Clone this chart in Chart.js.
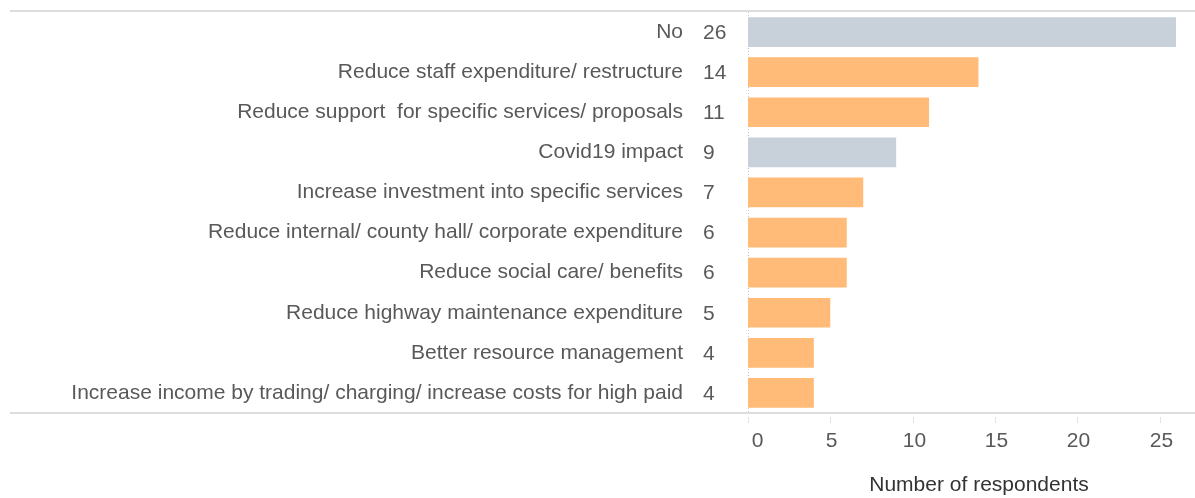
<!DOCTYPE html>
<html>
<head>
<meta charset="utf-8">
<script src="https://cdn.jsdelivr.net/npm/chart.js@4.4.1/dist/chart.umd.min.js"></script>
<style>
html,body{margin:0;padding:0;background:#fff;}
#wrap{position:relative;width:1195px;height:498px;}
</style>
</head>
<body>
<div id="wrap"><canvas id="c" width="1195" height="498"></canvas></div>
<script>
const categories = [
  "No",
  "Reduce staff expenditure/ restructure",
  "Reduce support  for specific services/ proposals",
  "Covid19 impact",
  "Increase investment into specific services",
  "Reduce internal/ county hall/ corporate expenditure",
  "Reduce social care/ benefits",
  "Reduce highway maintenance expenditure",
  "Better resource management",
  "Increase income by trading/ charging/ increase costs for high paid"
];
const values = [26, 14, 11, 9, 7, 6, 6, 5, 4, 4];
const barGroup = ["neutral","saving","saving","neutral","saving","saving","saving","saving","saving","saving"];
const groupColors = { neutral: "#c8d0da", saving: "#ffbb77" };
const xTicks = [0, 5, 10, 15, 20, 25];
const axisTitle = "Number of respondents";

const FONT = "'Liberation Sans', Arial, sans-serif";
const FSIZE = 21;
const TEXT = "#595959";

const decor = {
  id: "decor",
  beforeDatasetsDraw(chart) {
    const {ctx, chartArea: a, scales: {x}} = chart;
    ctx.save();
    ctx.strokeStyle = "#c8c8c8";
    ctx.lineWidth = 1;
    ctx.setLineDash([1, 2]);
    const x0 = Math.round(x.getPixelForValue(0)) + 0.5;
    ctx.beginPath(); ctx.moveTo(x0, a.top); ctx.lineTo(x0, a.bottom); ctx.stroke();
    ctx.restore();
  },
  afterDatasetsDraw(chart) {
    const {ctx, chartArea: a, scales: {x, y}} = chart;
    ctx.save();
    // top and bottom rules
    ctx.strokeStyle = "#d2d2d2";
    ctx.lineWidth = 1.5;
    ctx.beginPath(); ctx.moveTo(10, a.top - 1); ctx.lineTo(chart.width, a.top - 1); ctx.stroke();
    ctx.beginPath(); ctx.moveTo(10, a.bottom); ctx.lineTo(chart.width, a.bottom); ctx.stroke();
    // tick marks + labels
    ctx.strokeStyle = "#e3e3e3";
    ctx.lineWidth = 1;
    ctx.fillStyle = TEXT;
    ctx.font = FSIZE + "px " + FONT;
    ctx.textAlign = "center";
    ctx.textBaseline = "alphabetic";
    xTicks.forEach((t, i) => {
      const px = Math.round(x.getPixelForValue(t)) + 0.5;
      ctx.beginPath(); ctx.moveTo(px, a.bottom + 4); ctx.lineTo(px, a.bottom + 10); ctx.stroke();
      const shift = i === 0 ? 9 : 1;
      ctx.fillText(String(t), px + shift, a.bottom + 34);
    });
    // axis title
    ctx.fillStyle = "#333333";
    ctx.fillText(axisTitle, (a.left + a.right) / 2 + 17, a.bottom + 78);
    // value labels
    ctx.fillStyle = TEXT;
    ctx.textAlign = "left";
    ctx.textBaseline = "middle";
    values.forEach((v, i) => {
      ctx.fillText(String(v), a.left - 45, y.getPixelForValue(i) + 1);
    });
    ctx.restore();
  }
};

new Chart(document.getElementById("c"), {
  type: "bar",
  data: {
    labels: categories,
    datasets: [{
      data: values,
      backgroundColor: barGroup.map(g => groupColors[g]),
      barPercentage: 0.74,
      categoryPercentage: 1.0,
      borderWidth: 0
    }]
  },
  options: {
    indexAxis: "y",
    responsive: false,
    animation: false,
    layout: { padding: { top: 12, right: 19, bottom: 0, left: 0 } },
    plugins: { legend: { display: false }, tooltip: { enabled: false } },
    scales: {
      y: {
        grid: { display: false, drawTicks: false },
        border: { display: false },
        ticks: { color: TEXT, font: { family: FONT, size: FSIZE }, padding: 65, autoSkip: false },
        afterFit(s) { s.width = 748; s.paddingTop = 0; s.paddingBottom = 0; }
      },
      x: {
        min: 0, max: 26,
        afterBuildTicks(s) { s.ticks = xTicks.map(v => ({ value: v })); },
        grid: { display: false, drawTicks: false },
        border: { display: false },
        ticks: { display: false },
        title: { display: false },
        afterFit(s) { s.height = 85; s.paddingLeft = 0; s.paddingRight = 0; }
      }
    }
  },
  plugins: [decor]
});
</script>
</body>
</html>
